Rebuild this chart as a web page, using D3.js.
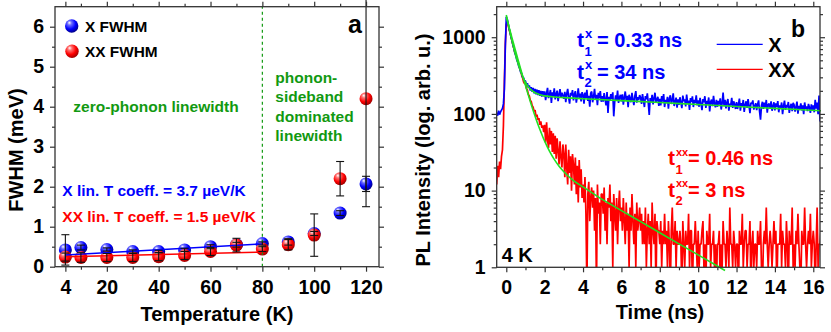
<!DOCTYPE html>
<html>
<head>
<meta charset="utf-8">
<script src="https://cdn.jsdelivr.net/npm/d3@7"></script>
<style>
  body { margin: 0; background: #fff; }
  text { font-family: "Liberation Sans", Arial, sans-serif; font-weight: bold; }
</style>
</head>
<body>
<script>
// ---- panel a : FWHM vs temperature ----
var temps = [4, 10, 20, 30, 40, 50, 60, 70, 80, 90, 100, 110, 120];
var xFwhm = [0.42, 0.48, 0.43, 0.38, 0.38, 0.42, 0.50, 0.55, 0.58, 0.62, 0.83, 1.34, 2.07];
var xErr = [0.38, 0.06, 0.04, 0.04, 0.03, 0.04, 0.05, 0.06, 0.04, 0.08, 0.05, 0.06, 0.19];
var xxFwhm = [0.24, 0.23, 0.23, 0.23, 0.25, 0.28, 0.38, 0.54, 0.44, 0.55, 0.79, 2.20, 4.20];
var xxErr = [0.10, 0.12, 0.10, 0.10, 0.10, 0.10, 0.10, 0.17, 0.06, 0.13, 0.53, 0.43, 2.70];
var fitT = [4, 80];
var fitX = [0.29, 0.57];
var fitXX = [0.25, 0.364];
var borderT = 80;
var tempMajor = [4, 20, 40, 60, 80, 100, 120];
var tempMinor = [10, 30, 50, 70, 90, 110];
var fwhmMajor = [0, 1, 2, 3, 4, 5, 6];
var fwhmMinor = [0.5, 1.5, 2.5, 3.5, 4.5, 5.5];

// ---- panel b : PL decay at 4 K ----
var timeStart = -0.5, timeStep = 0.05;
var xTrace = [
  104, 95, 110, 98, 106, 112, 118, 135, 210, 760,
  1850, 1720, 1500, 1290, 1150, 990, 905, 780, 712, 620, 572, 505, 470, 418, 392, 350, 338, 300, 296, 268,
  270, 236, 252, 218, 236, 202, 224, 194, 218, 186, 212, 180, 208, 176, 204, 172, 200, 168, 198, 170,
  197, 151, 187, 219, 161, 177, 205, 139, 191, 169, 215, 155, 183, 201, 147, 179, 211, 163, 189, 173,
  158, 194, 142, 182, 212, 164, 136, 188, 174, 204, 150, 180, 198, 140, 170, 216, 158, 184, 146, 192,
  178, 136, 190, 162, 206, 148, 172, 124, 186, 196, 142, 168, 212, 152, 178, 130, 188, 160, 198, 144,
  171, 145, 187, 155, 129, 193, 103, 167, 149, 181, 157, 191, 93, 143, 175, 153, 201, 139, 165, 177,
  146, 180, 132, 164, 196, 150, 172, 122, 178, 160, 142, 188, 154, 130, 172, 198, 140, 166, 152, 176,
  163, 135, 181, 149, 123, 171, 155, 185, 139, 97, 161, 143, 177, 133, 159, 189, 141, 153, 167, 127,
  157, 129, 171, 145, 181, 123, 153, 139, 167, 117, 159, 175, 135, 151, 185, 127, 143, 163, 121, 155,
  131, 165, 141, 119, 173, 147, 155, 125, 179, 137, 149, 113, 161, 143, 169, 123, 153, 139, 175, 129,
  150, 124, 162, 134, 112, 156, 142, 170, 120, 148, 132, 164, 108, 144, 154, 126, 172, 136, 122, 152,
  124, 148, 132, 160, 114, 138, 190, 126, 152, 118, 142, 156, 110, 136, 130, 162, 120, 146, 134, 116,
  142, 116, 134, 158, 110, 138, 124, 152, 106, 132, 146, 120, 156, 128, 102, 140, 136, 150, 114, 126,
  138, 112, 134, 150, 108, 84, 128, 144, 116, 140, 122, 152, 104, 132, 136, 118, 146, 110, 126, 142,
  111, 137, 123, 147, 105, 129, 117, 141, 99, 127, 149, 113, 131, 121, 143, 103, 125, 135, 109, 139,
  131, 107, 123, 145, 101, 127, 115, 137, 111, 129, 99, 141, 117, 125, 109, 135, 121, 103, 133, 113,
  129, 105, 153, 117, 141, 99, 173, 80, 123
];
var xxTrace = [
  12, 21, 15, 24, 19, 28, 34, 70, 260, 820,
  1480, 1560, 1420, 1250, 1120, 1010, 880, 790, 700, 620, 600, 530, 480, 440, 390, 365, 320, 295, 262, 248,
  250, 215, 205, 180, 172, 150, 145, 128, 122, 108, 112, 92, 98, 84, 88, 72, 80, 66, 71, 58,
  72, 42, 78, 46, 36, 66, 40, 60, 32, 56, 30, 52, 26, 48, 33, 22, 44, 27, 20, 40,
  30, 15, 40, 20, 12, 34, 17, 28, 10, 30, 22, 12, 27, 9, 21, 7, 25, 11, 19, 8,
  12, 7, 15, 5, 0, 9, 13, 4, 8, 11, 6, 10, 3, 8, 0, 12, 5, 7, 2, 9,
  9, 5, 11, 3, 7, 2, 8, 6, 12, 4, 7, 1, 9, 5, 3, 8, 2, 6, 10, 4,
  6, 3, 8, 4, 2, 7, 3, 5, 1, 6, 3, 9, 4, 2, 5, 1, 7, 3, 4, 6,
  3, 5, 2, 4, 2, 6, 1, 3, 5, 2, 4, 1, 7, 3, 2, 5, 0, 4, 3, 3,
  2, 4, 1, 3, 2, 5, 2, 3, 1, 4, 2, 0, 3, 6, 2, 2, 4, 1, 3, 2,
  2, 3, 2, 0, 4, 2, 1, 3, 2, 2, 5, 1, 3, 3, 0, 2, 2, 4, 2, 1,
  3, 1, 2, 2, 3, 4, 1, 2, 0, 3, 2, 2, 5, 1, 2, 2, 3, 1, 2, 0,
  2, 2, 3, 0, 2, 1, 4, 2, 2, 1, 3, 2, 1, 6, 2, 2, 1, 3, 2, 1,
  2, 2, 0, 3, 2, 2, 5, 1, 2, 3, 3, 1, 2, 2, 4, 0, 2, 3, 1, 2,
  2, 1, 3, 2, 2, 4, 1, 0, 2, 3, 2, 6, 2, 1, 2, 3, 2, 1, 2, 4,
  2, 3, 0, 2, 2, 2, 5, 1, 3, 2, 2, 1, 4, 2, 0, 3, 2, 2, 6, 1,
  2, 1, 3, 2, 5, 2, 1, 0, 3, 2, 2, 6, 2, 1, 2, 3, 2, 5, 1, 2,
  3, 2, 0, 2, 6, 1, 2, 2, 3
];
var fitXTime = [0, 0.05, 0.1, 0.15, 0.2, 0.25, 0.3, 0.4, 0.5, 0.6, 0.7, 0.8, 0.9, 1.0, 1.1, 1.2, 1.3, 1.4, 1.5, 1.6, 1.8, 2.0, 2.5, 3, 4, 6, 8, 10, 12, 14, 16.4];
var fitXVal = [1950, 1701, 1487, 1302, 1143, 1007, 890, 703, 565, 463, 387, 331, 289, 258, 235, 218, 206, 196, 189, 184, 176, 172, 166, 163, 158, 149, 141, 132.5, 125, 118, 110];
var fitXXTime = [0, 0.05, 0.1, 0.15, 0.2, 0.25, 0.3, 0.4, 0.5, 0.6, 0.7, 0.8, 0.9, 1.0, 1.1, 1.2, 1.3, 1.4, 1.5, 1.6, 1.7, 1.8, 1.9, 2.0, 2.25, 2.5, 2.75, 3, 3.5, 4, 5, 6, 7, 8, 9, 10, 11, 11.4];
var fitXXVal = [1841, 1655, 1488, 1338, 1203, 1083, 974, 790, 641, 522, 425, 347, 285, 234, 193, 160, 133, 111, 93.6, 79.3, 67.7, 58.3, 50.4, 44.1, 32.7, 25.5, 20.8, 17.6, 13.5, 11.2, 7.67, 5.49, 3.94, 2.82, 2.02, 1.45, 1.04, 0.91];
var timeMajor = [0, 2, 4, 6, 8, 10, 12, 14, 16];
var timeMinor = [1, 3, 5, 7, 9, 11, 13, 15];
var plMajor = [1, 10, 100, 1000];
var plMinor = [2, 3, 4, 5, 6, 7, 8, 9, 20, 30, 40, 50, 60, 70, 80, 90, 200, 300, 400, 500, 600, 700, 800, 900, 2000];

var blue = "#0000ff", red = "#ff0000", olive = "#119911", lime = "#22e022", ink = "#333";

var svg = d3.select("body").append("svg")
  .attr("width", 831)
  .attr("height", 332);

var defs = svg.append("defs");
function ballGradient(id, light, mid, dark) {
  var g = defs.append("radialGradient").attr("id", id)
    .attr("cx", "40%").attr("cy", "35%").attr("r", "65%")
    .attr("fx", "32%").attr("fy", "25%");
  g.append("stop").attr("offset", "0%").attr("stop-color", "#fff");
  g.append("stop").attr("offset", "25%").attr("stop-color", light);
  g.append("stop").attr("offset", "65%").attr("stop-color", mid);
  g.append("stop").attr("offset", "100%").attr("stop-color", dark);
}
ballGradient("ballBlue", "#6a6aff", blue, "#00008a");
ballGradient("ballRed", "#ff7070", red, "#a00000");

function drawAxis(g, gen, values, size, labels, pad) {
  gen.tickValues(values).tickSize(size).tickSizeOuter(0).tickPadding(pad || 3);
  if (!labels) gen.tickFormat("");
  else gen.tickFormat(function (d) { return d; });
  g.call(gen);
  g.select(".domain").remove();
  g.selectAll("line").attr("stroke", ink).attr("stroke-width", 1.2);
  g.attr("font-size", 19.5).attr("font-family", null);
  g.selectAll("text").attr("fill", "#000");
}

function frameAxes(x, y, xMaj, xMin, yMaj, yMin) {
  var x0 = x.range()[0], x1 = x.range()[1], y0 = y.range()[0], y1 = y.range()[1];
  drawAxis(svg.append("g").attr("transform", "translate(0," + y0 + ")"), d3.axisBottom(x), xMaj, 5, true, 8);
  drawAxis(svg.append("g").attr("transform", "translate(0," + y0 + ")"), d3.axisBottom(x), xMin, 3, false);
  drawAxis(svg.append("g").attr("transform", "translate(0," + y1 + ")"), d3.axisTop(x), xMaj, 5, false);
  drawAxis(svg.append("g").attr("transform", "translate(0," + y1 + ")"), d3.axisTop(x), xMin, 3, false);
  drawAxis(svg.append("g").attr("transform", "translate(" + x0 + ",0)"), d3.axisLeft(y), yMaj, 5, true, 6);
  drawAxis(svg.append("g").attr("transform", "translate(" + x0 + ",0)"), d3.axisLeft(y), yMin, 3, false);
  drawAxis(svg.append("g").attr("transform", "translate(" + x1 + ",0)"), d3.axisRight(y), yMaj, 5, false);
  drawAxis(svg.append("g").attr("transform", "translate(" + x1 + ",0)"), d3.axisRight(y), yMin, 3, false);
  svg.append("rect")
    .attr("x", x0).attr("y", y1)
    .attr("width", x1 - x0).attr("height", y0 - y1)
    .attr("fill", "none").attr("stroke", ink).attr("stroke-width", 1.3);
}

function label(x, y, str, size, color, anchor) {
  return svg.append("text")
    .attr("x", x).attr("y", y)
    .attr("font-size", size)
    .attr("fill", color || "#000")
    .attr("text-anchor", anchor || "start")
    .text(str);
}

// ================= panel a =================
var xA = d3.scaleLinear().domain([0, 125]).range([55, 379]);
var yA = d3.scaleLinear().domain([0, 6.5]).range([266.7, 6.7]);

var pts = svg.append("g");
pts.selectAll("circle.x").data(temps).enter().append("circle")
  .attr("cx", function (d) { return xA(d); })
  .attr("cy", function (d, i) { return yA(xFwhm[i]); })
  .attr("r", 6.5)
  .attr("fill", "url(#ballBlue)");
pts.selectAll("circle.xx").data(temps).enter().append("circle")
  .attr("cx", function (d) { return xA(d); })
  .attr("cy", function (d, i) { return yA(xxFwhm[i]); })
  .attr("r", 6.5)
  .attr("fill", "url(#ballRed)");

svg.append("line")
  .attr("x1", xA(borderT)).attr("x2", xA(borderT))
  .attr("y1", yA(0)).attr("y2", yA(6.5))
  .attr("stroke", olive).attr("stroke-width", 1.2)
  .attr("stroke-dasharray", "3,3");

var fitLine = d3.line()
  .x(function (d, i) { return xA(fitT[i]); })
  .y(function (d) { return yA(d); });
svg.append("path").attr("d", fitLine(fitX)).attr("fill", "none").attr("stroke", blue).attr("stroke-width", 1.5);
svg.append("path").attr("d", fitLine(fitXX)).attr("fill", "none").attr("stroke", red).attr("stroke-width", 1.5);

function errorBars(vals, errs) {
  var g = svg.append("g").attr("stroke", "#111").attr("stroke-width", 1.1);
  temps.forEach(function (t, i) {
    var cx = xA(t), lo = yA(vals[i] - errs[i]), hi = yA(vals[i] + errs[i]);
    g.append("line").attr("x1", cx).attr("x2", cx).attr("y1", lo).attr("y2", hi);
    g.append("line").attr("x1", cx - 4).attr("x2", cx + 4).attr("y1", lo).attr("y2", lo);
    g.append("line").attr("x1", cx - 4).attr("x2", cx + 4).attr("y1", hi).attr("y2", hi);
  });
}
errorBars(xFwhm, xErr);
errorBars(xxFwhm, xxErr);

frameAxes(xA, yA, tempMajor, tempMinor, fwhmMajor, fwhmMinor);

svg.append("circle").attr("cx", 71.7).attr("cy", 26).attr("r", 6.7).attr("fill", "url(#ballBlue)");
svg.append("circle").attr("cx", 72).attr("cy", 51.3).attr("r", 6.7).attr("fill", "url(#ballRed)");
label(85, 31.7, "X FWHM", 15.4);
label(85, 56.9, "XX FWHM", 15.4);
label(348, 33.3, "a", 25);
label(73.3, 111.5, "zero-phonon linewidth", 15.5, olive);
label(275.3, 82.5, "phonon-", 15.5, olive);
label(275.3, 102, "sideband", 15.5, olive);
label(275.3, 121.5, "dominated", 15.5, olive);
label(275.3, 141, "linewidth", 15.5, olive);
label(62.3, 196, "X lin. T coeff. = 3.7 µeV/K", 15.5, blue);
label(62.3, 222, "XX lin. T coeff. = 1.5 µeV/K", 15.5, red);
label(217, 320.5, "Temperature (K)", 20, "#000", "middle");
svg.append("text")
  .attr("transform", "translate(22.5,150) rotate(-90)")
  .attr("text-anchor", "middle").attr("font-size", 20)
  .text("FWHM (meV)");

// ================= panel b =================
var xB = d3.scaleLinear().domain([-0.5, 16.35]).range([496.7, 820]);
var yB = d3.scaleLog().domain([1, 2500]).range([267.3, 6.7]);

defs.append("clipPath").attr("id", "clipB").append("rect")
  .attr("x", 496.7).attr("y", 6.7).attr("width", 323.3).attr("height", 260.6);

var traceLine = d3.line()
  .x(function (d, i) { return xB(timeStart + i * timeStep); })
  .y(function (d) { return yB(Math.max(d, 0.5)); });

var traces = svg.append("g").attr("clip-path", "url(#clipB)");
traces.append("path").attr("d", traceLine(xxTrace))
  .attr("fill", "none").attr("stroke", red).attr("stroke-width", 1.7)
  .attr("stroke-linejoin", "bevel");
traces.append("path").attr("d", traceLine(xTrace))
  .attr("fill", "none").attr("stroke", blue).attr("stroke-width", 1.7)
  .attr("stroke-linejoin", "bevel");

function fitPath(times) {
  return d3.line()
    .curve(d3.curveMonotoneX)
    .x(function (d, i) { return xB(times[i]); })
    .y(function (d) { return yB(d); });
}
svg.append("path").attr("d", fitPath(fitXTime)(fitXVal))
  .attr("fill", "none").attr("stroke", lime).attr("stroke-width", 1.6);
svg.append("path").attr("d", fitPath(fitXXTime)(fitXXVal))
  .attr("fill", "none").attr("stroke", lime).attr("stroke-width", 1.6);

frameAxes(xB, yB, timeMajor, timeMinor, plMajor, plMinor);

// lifetimes
function tau(x, base, sup, sub, rest, color, restX, supSize) {
  label(x, base, "t", 21, color);
  label(x + 8, base - 9.5, sup, supSize, color);
  label(x + 7.5, base + 8.5, sub, 13, color);
  label(restX, base, rest, 20, color);
}
tau(577, 47, "x", "1", "= 0.33 ns", blue, 597, 13);
tau(577, 78.5, "x", "2", "= 34 ns", blue, 597, 13);
tau(668, 165, "xx", "1", "= 0.46 ns", red, 688, 11);
tau(668, 196.7, "xx", "2", "= 3 ns", red, 688, 11);

svg.append("line").attr("x1", 716.7).attr("x2", 762.7).attr("y1", 44.3).attr("y2", 44.3)
  .attr("stroke", blue).attr("stroke-width", 1.2);
svg.append("line").attr("x1", 716.7).attr("x2", 762.7).attr("y1", 69.3).attr("y2", 69.3)
  .attr("stroke", red).attr("stroke-width", 1.2);
label(768.3, 51.7, "X", 20);
label(768.3, 76.7, "XX", 20);
label(791, 36.7, "b", 23);
label(501.7, 262, "4 K", 20);
label(660, 319, "Time (ns)", 20, "#000", "middle");
svg.append("text")
  .attr("transform", "translate(430,150) rotate(-90)")
  .attr("text-anchor", "middle").attr("font-size", 20)
  .text("PL Intensity (log. arb. u.)");
</script>
</body>
</html>
